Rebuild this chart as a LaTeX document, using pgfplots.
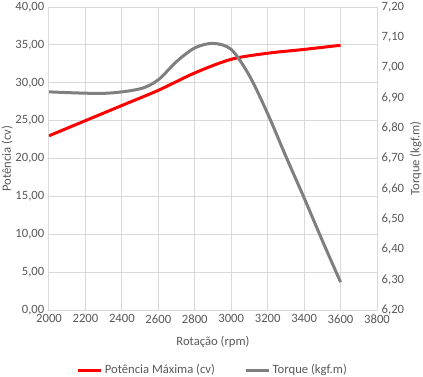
\documentclass[border=0pt]{standalone}
\usepackage{pgfplots}
\pgfplotsset{compat=1.18}
\usepackage{fontspec}
\setmainfont{Carlito}
\definecolor{txt}{HTML}{595959}
\definecolor{grd}{HTML}{D9D9D9}
\definecolor{tq}{HTML}{7F7F7F}
\pgfplotsset{
  base/.style={
    scale only axis, width=246pt, height=227.25pt,
    at={(0pt,0pt)}, anchor=south west,
    xmin=2000, xmax=3800,
    major tick length=0pt,
    tick label style={font=\fontsize{9.5}{11}\selectfont, text=txt},
    label style={font=\fontsize{9.5}{11}\selectfont, text=txt},
    /pgf/number format/assume math mode=true,
  }
}
\begin{document}
\begin{tikzpicture}
\begin{axis}[base,
  ymin=0, ymax=40, ytick={0,5,...,40},
  xtick={2000,2200,...,3800},
  grid=major, major grid style={grd, line width=0.75pt},
  axis line style={grd, line width=0.75pt},
  xticklabel style={/pgf/number format/1000 sep={}},
  yticklabel style={/pgf/number format/.cd, fixed, fixed zerofill, precision=2, use comma},
  xlabel={Rotação (rpm)}, ylabel={Potência (cv)},
  xlabel style={at={(axis description cs:0.5,-0.106)}, anchor=center},
  ylabel style={at={(axis description cs:-0.128,0.5)}, anchor=center},
]
\addplot[red, line width=2.25pt, smooth, tension=0.5] coordinates {
(2000,23.0) (2400,27.0) (2600,29.0) (2800,31.3)
(3000,33.1) (3200,33.9) (3400,34.4) (3600,34.95)};
\end{axis}
\begin{axis}[base,
  ymin=6.2, ymax=7.2, ytick={6.2,6.3,...,7.25},
  axis y line*=right, axis x line=none,
  axis line style={draw=none},
  yticklabel style={/pgf/number format/.cd, fixed, fixed zerofill, precision=2, use comma},
  ylabel={Torque (kgf.m)},
  ylabel style={at={(axis description cs:1.118,0.5)}, anchor=center},
  legend columns=2,
  legend style={at={(0.5,-0.198)}, anchor=center, draw=none, fill=none,
    font=\fontsize{9.5}{11}\selectfont, text=txt,
    /tikz/every even column/.append style={column sep=20pt}},
  legend image code/.code={\draw[#1] (0pt,0pt) -- (17pt,0pt);},
]
\addlegendimage{red, line width=2.25pt}
\addlegendentry{Potência Máxima (cv)}
\addplot[tq, line width=2.25pt, smooth, tension=0.5] coordinates {
(2000,6.920) (2300,6.915) (2500,6.930) (2600,6.960) (2700,7.020)
(2800,7.065) (2900,7.080) (3000,7.060) (3100,6.973) (3200,6.848)
(3300,6.707) (3400,6.570) (3500,6.429) (3600,6.292)};
\addlegendentry{Torque (kgf.m)}
\end{axis}
\pgfresetboundingbox
\path (-36.75pt,-49.5pt) rectangle (280.5pt,232.5pt);
\end{tikzpicture}
\end{document}
